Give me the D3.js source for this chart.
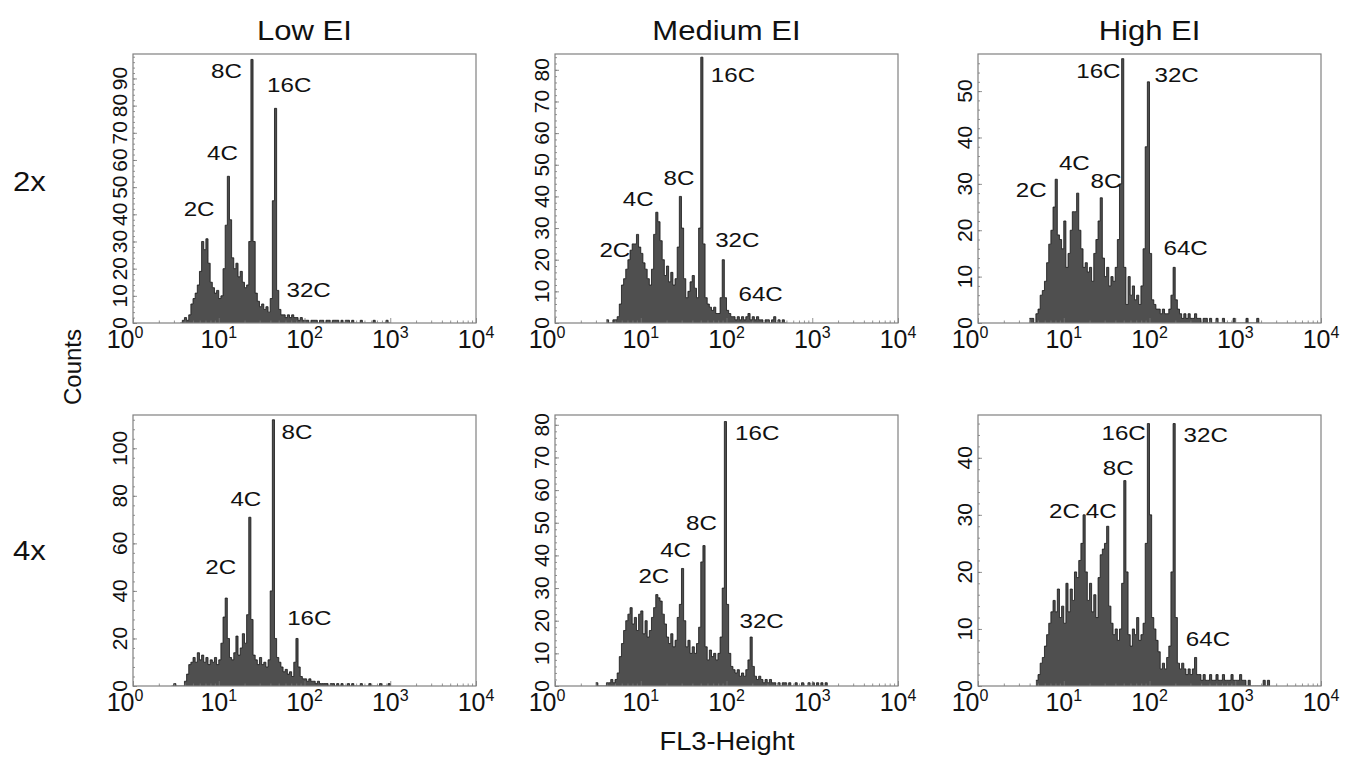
<!DOCTYPE html>
<html>
<head>
<meta charset="utf-8">
<script src="https://cdn.jsdelivr.net/npm/d3@7"></script>
<style>
body { margin: 0; background: #fff; }
text { font-family: "Liberation Sans", Arial, Helvetica, sans-serif; fill: #111; }
</style>
</head>
<body>
<svg id="chart" width="1349" height="759"></svg>
<script>
// column / row headings
var colTitles = ["Low EI", "Medium EI", "High EI"];
var rowTitles = ["2x", "4x"];

// histogram bins: width in log10 units, left edge of first bin per panel
var binStep = 0.025;
var binStart = [0.55, 0.6, 0.6, 0.45, 0.475, 0.675];

// counts per bin
var lowEI2x = [0,1,2,1,3,7,9,11,14,19, 30,27,31,22,15,13,11,12,9,10, 20,36,54,38,24,20,22,17,19,15,
  13,14,30,97,30,11,8,6,7,5, 6,4,9,45,79,12,5,3,3,2, 3,2,3,2,2,1,2,1,
  1,1,0,1,1,1,0,1,1,0,1,1,0,1,1,1,0,1,0,1,1,0,1,0, 0,0,1,0,0,0,0,0,1,0,0,0,0,0,1,0];
var mediumEI2x = [1,0,0,1,1,2,6,12,14,17, 20,23,25,25,28,24,22,19,17,14, 12,17,28,35,32,26,20,15,18,13,
  16,12,14,24,40,30,14,8,10,13, 15,11,8,30,84,25,8,6,5,4, 5,3,3,8,20,8,4,3,2,2,
  1,2,1,2,1,2,3,1,2,1, 2,1,1,0,1,1,0,1,2,0, 1,0,1,0];
var highEI2x = [1,1,0,2,3,6,7,9,13,17, 20,25,31,19,18,16,22,12,15,20, 24,24,28,20,16,12,13,11,12,9,
  15,18,22,27,14,10,12,8,10,9, 12,18,30,57,12,4,10,6,8,5, 6,4,8,16,38,52,15,5,4,3,
  3,2,3,2,2,3,6,12,5,3, 2,1,2,1,2,1,1,2,1,1, 0,1,1,0,1,0,0,1,0,0, 1,0,0,0,0,1,0,0,0,0, 0,1,0,0,0,0,1];
var lowEI4x = [0,1,0,0,0,0,2,5,9,10, 12,10,14,11,13,10,12,9,11,10, 12,9,11,18,29,37,20,12,11,14,
  21,13,16,22,18,30,71,28,13,11, 9,12,9,10,8,11,40,112,20,12, 10,8,6,7,5,6,4,10,20,8,
  4,3,3,2,3,2,2,1,2,1, 1,1,1,0,1,1,0,1,0,1, 0,0,1,0,1,0,0,0,1,0, 0,0,1,0,0,0,0,1,0,0, 0,1];
var mediumEI4x = [1,0,0,0,0,1,1,2,1,2, 4,9,13,17,20,22,24,19,21,17, 22,23,16,20,15,17,21,24,28,27,
  26,22,19,15,13,16,12,14,21,25, 36,20,12,14,10,12,10,13,18,38, 43,12,8,11,9,10,8,10,15,30,
  81,25,10,6,5,4,5,3,4,3, 5,8,15,6,3,2,3,2,1,2, 1,2,1,1,0,1,0,1,1,0, 1,0,0,1,0,0,1,0,0,1, 0,1,0,1,0,1,0,1];
var highEI4x = [1,2,4,5,7,9,11,13,15,13, 17,12,14,11,18,13,17,15,20,19, 22,25,30,20,15,18,13,16,12,19,
  23,24,25,28,14,11,9,10,8,10, 18,36,20,9,7,10,9,12,8,9, 11,25,46,30,12,10,8,6,3,4,
  3,5,7,20,46,12,4,3,4,3, 2,3,2,3,5,2,2,1,2,1, 1,2,1,1,2,1,1,2,1,1, 1,2,1,1,1,2,1,1,0,1, 0,0,0,0,0,0,1,0,1];

// y axis top and tick values per panel
var yMax = [99, 85, 58, 114, 83, 47.5];
var yTicks = [
  [0,10,20,30,40,50,60,70,80,90],
  [0,10,20,30,40,50,60,70,80],
  [0,10,20,30,40,50],
  [0,20,40,60,80,100],
  [0,10,20,30,40,50,60,70,80],
  [0,10,20,30,40]
];
var xTickExp = [0, 1, 2, 3, 4];

// peak labels: [text, log10 FL3 of left edge, count at baseline]
var peakLabels = [
  [["8C",0.911,90],["16C",1.564,85],["4C",0.864,60],["2C",0.591,39.5],["32C",1.79,9.4]],
  [["16C",1.817,76],["8C",1.265,43.5],["4C",0.79,37],["2C",0.518,20.8],["32C",1.868,24],["64C",2.14,7]],
  [["16C",1.146,52.8],["32C",2.058,52],["4C",0.944,32.9],["8C",1.313,29.2],["2C",0.44,27.2],["64C",2.163,14.7]],
  [["8C",1.732,104],["4C",1.136,75.6],["2C",0.844,47],["16C",1.798,25.6]],
  [["16C",2.10,75.3],["8C",1.529,47.8],["4C",1.226,39.6],["2C",0.973,31.4],["32C",2.152,17.7]],
  [["16C",1.44,43.2],["32C",2.397,42.8],["8C",1.455,36.9],["2C",0.829,29.5],["4C",1.257,29.5],["64C",2.424,7]]
];

var allBins = [lowEI2x, mediumEI2x, highEI2x, lowEI4x, mediumEI4x, highEI4x];

var svg = d3.select("#chart");
var colX = [133, 555, 978], rowY = [54, 415];
var plotW = 343, plotH = [269, 271];

allBins.forEach(function (bins, k) {
	var col = k % 3, row = Math.floor(k / 3);
	var h = plotH[row];
	var g = svg.append("g").attr("transform", "translate(" + colX[col] + "," + rowY[row] + ")");

	var x = d3.scaleLog().domain([1, 10000]).range([0, plotW]);
	var y = d3.scaleLinear().domain([0, yMax[k]]).range([h, 0]);

	g.append("clipPath").attr("id", "clip" + k)
		.append("rect").attr("width", plotW).attr("height", h);

	var pts = bins.map(function (c, i) { return [Math.pow(10, binStart[k] + i * binStep), c]; });
	pts.push([Math.pow(10, binStart[k] + bins.length * binStep), 0]);

	var area = d3.area()
		.x(function (d) { return x(d[0]); })
		.y0(h)
		.y1(function (d) { return y(d[1]); })
		.curve(d3.curveStepAfter);
	var line = d3.line()
		.x(function (d) { return x(d[0]); })
		.y(function (d) { return y(d[1]); })
		.curve(d3.curveStepAfter);

	var hist = g.append("g").attr("clip-path", "url(#clip" + k + ")");
	hist.append("path").datum(pts).attr("d", area).attr("fill", "#4f4f4f");
	hist.append("path").datum(pts).attr("d", line)
		.attr("fill", "none").attr("stroke", "#151515").attr("stroke-width", 0.8);

	// x axis ticks (inside)
	var minor = [];
	for (var d = 0; d < 4; d++) for (var m = 2; m < 10; m++) minor.push(m * Math.pow(10, d));
	var xAxisMinor = g.append("g").attr("transform", "translate(0," + h + ")")
		.call(d3.axisBottom(x).tickValues(minor).tickSize(-2.5).tickFormat(""));
	var xAxisMajor = g.append("g").attr("transform", "translate(0," + h + ")")
		.call(d3.axisBottom(x).tickValues(xTickExp.map(function (e) { return Math.pow(10, e); }))
			.tickSize(-5).tickFormat(""));

	// y axis ticks (inside)
	var tk = yTicks[k];
	var minorStep = (tk[1] - tk[0]) / 5;
	var yMinor = d3.range(0, yMax[k], minorStep);
	var yAxisMinor = g.append("g").call(d3.axisLeft(y).tickValues(yMinor).tickSize(-2).tickFormat(""));
	var yAxisMajor = g.append("g").call(d3.axisLeft(y).tickValues(tk).tickSize(-4).tickFormat(""));

	[xAxisMinor, xAxisMajor, yAxisMinor, yAxisMajor].forEach(function (a) {
		a.select(".domain").remove();
		a.selectAll("line").attr("stroke", "#777").attr("stroke-width", 0.8);
	});

	// frame
	g.append("rect").attr("width", plotW).attr("height", h)
		.attr("fill", "none").attr("stroke", "#808080").attr("stroke-width", 1.2);

	// x tick labels 10^n
	xTickExp.forEach(function (e) {
		var t = g.append("text")
			.attr("x", x(Math.pow(10, e)) + (e === 0 ? -8 : 0))
			.attr("y", h + 25)
			.attr("text-anchor", "middle")
			.style("font-size", "25px");
		t.append("tspan").text("10");
		t.append("tspan").attr("dy", -10).style("font-size", "16px").text(e);
	});

	// y tick labels, rotated
	tk.forEach(function (v) {
		g.append("text")
			.attr("transform", "translate(-6," + y(v) + ") rotate(-90)")
			.attr("text-anchor", "middle")
			.style("font-size", "21px")
			.text(v);
	});

	// peak labels
	peakLabels[k].forEach(function (p) {
		g.append("text")
			.attr("transform", "translate(" + x(Math.pow(10, p[1])) + "," + y(p[2]) + ") scale(1.15,1)")
			.style("font-size", "21px")
			.text(p[0]);
	});
});

// column titles
colTitles.forEach(function (t, i) {
	svg.append("text")
		.attr("transform", "translate(" + (colX[i] + plotW / 2) + ",40) scale(1.15,1)")
		.attr("text-anchor", "middle")
		.style("font-size", "27px")
		.text(t);
});

// row titles
rowTitles.forEach(function (t, i) {
	svg.append("text")
		.attr("transform", "translate(13," + (i === 0 ? 191 : 560) + ") scale(1.15,1)")
		.style("font-size", "27px")
		.text(t);
});

svg.append("text")
	.attr("transform", "translate(81,367) rotate(-90)")
	.attr("text-anchor", "middle")
	.style("font-size", "24px")
	.text("Counts");

svg.append("text")
	.attr("transform", "translate(727,750) scale(1.05,1)")
	.attr("text-anchor", "middle")
	.style("font-size", "26px")
	.text("FL3-Height");
</script>
</body>
</html>
